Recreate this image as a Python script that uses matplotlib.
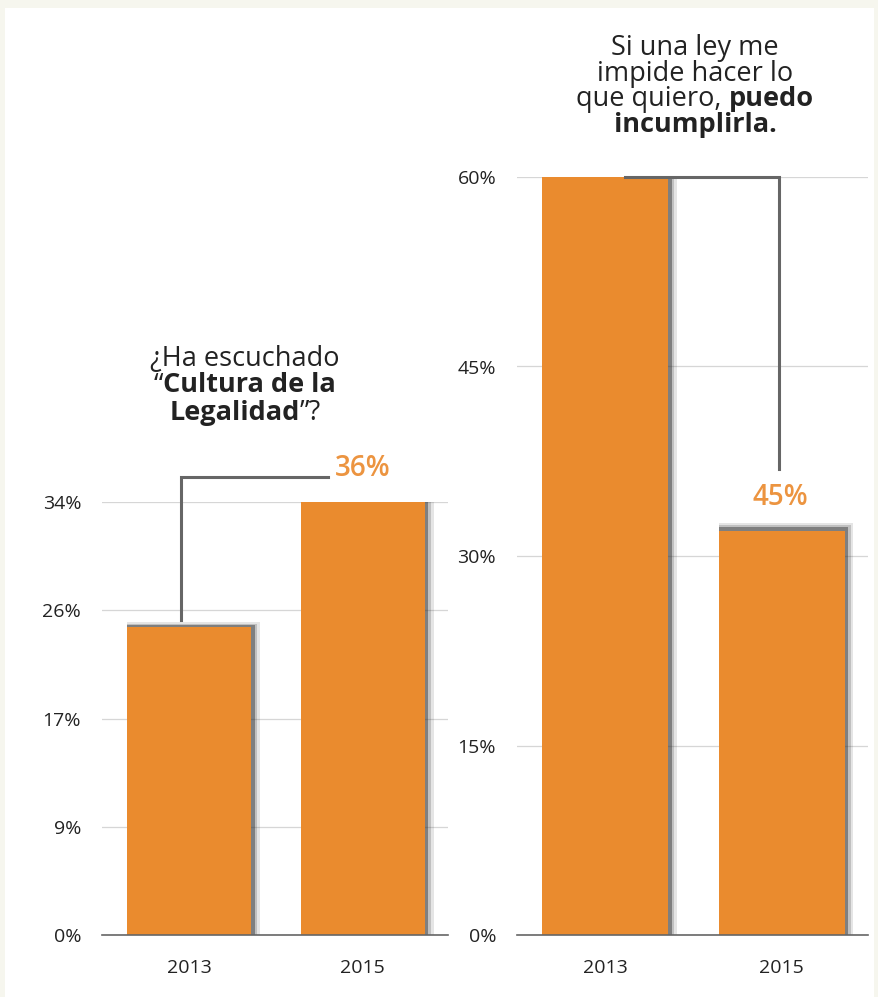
import matplotlib
matplotlib.use('Agg')
import matplotlib.pyplot as plt
from matplotlib.patches import Rectangle

plt.rcParams['font.family'] = ['Open Sans', 'DejaVu Sans']

# data
years = ['2013', '2015']
heard_vals = [24.2, 34.0]           # ¿Ha escuchado "Cultura de la Legalidad"?
heard_ticks = [0, 8.5, 17, 25.5, 34]
heard_labels = ['0%', '9%', '17%', '26%', '34%']
heard_note = '36%'

break_vals = [60.0, 32.0]           # Si una ley me impide hacer lo que quiero...
break_ticks = [0, 15, 30, 45, 60]
break_labels = ['0%', '15%', '30%', '45%', '60%']
break_note = '45%'

BAR = '#EA8B2E'
NOTE = '#EC9440'
LINE = '#666666'
GRID = '#d6d6d6'
TXT = '#222222'

W, H = 879, 997
fig = plt.figure(figsize=(W / 100, H / 100), dpi=100)
fig.patch.set_facecolor('#f6f6ee')
fig.patches.append(Rectangle((5 / W, 0), (W - 10) / W, (H - 8) / H,
                             transform=fig.transFigure, facecolor='white',
                             edgecolor='none', zorder=-5))


def make_axes(rect, vals, ticks, labels, ymax):
    ax = fig.add_axes(rect)
    ax.set_zorder(2)
    ax.set_facecolor('none')
    x = [0, 1]
    # soft drop shadow (right side and top)
    for k, a in enumerate([0.12, 0.20, 0.45]):
        dx = 0.05 - k * 0.015
        dy = ymax * (0.010 - k * 0.0025)
        ax.bar([i + dx / 2 for i in x], [v + dy for v in vals], width=0.715 + dx,
               color='#303030', alpha=a, zorder=2, linewidth=0)
    ax.bar(x, vals, width=0.715, color=BAR, zorder=3, linewidth=0)
    ax.set_xlim(-0.5, 1.49)
    ax.set_ylim(0, ymax)
    ax.set_yticks(ticks)
    ax.set_yticklabels(labels)
    ax.set_xticks(x)
    ax.set_xticklabels(years)
    ax.tick_params(axis='y', length=0, pad=15, labelsize=14, labelcolor=TXT)
    ax.tick_params(axis='x', length=0, pad=17, labelsize=14, labelcolor=TXT)
    ax.grid(axis='y', color=GRID, linewidth=0.9, zorder=1)
    for s in ['top', 'right', 'left']:
        ax.spines[s].set_visible(False)
    ax.spines['bottom'].set_color(LINE)
    ax.spines['bottom'].set_linewidth(1.2)
    ax.spines['bottom'].set_zorder(4)
    return ax


ax1 = make_axes([102 / W, 62 / H, 346 / W, 433 / H],
                heard_vals, heard_ticks, heard_labels, 34)
ax2 = make_axes([517 / W, 62 / H, 351 / W, 758 / H],
                break_vals, break_ticks, break_labels, 60)

# connector lines
ax1.plot([-0.046, -0.046, 0.80], [heard_vals[0] + 0.5, 36.0, 36.0],
         color=LINE, linewidth=2.2, clip_on=False, zorder=5, solid_joinstyle='miter')
ax1.text(0.84, 36.6, heard_note, color=NOTE, fontsize=20, fontweight='semibold',
         ha='left', va='center', clip_on=False)

ax2.plot([0.11, 0.983, 0.983], [60.0, 60.0, 36.9],
         color=LINE, linewidth=2.2, clip_on=False, zorder=5, solid_joinstyle='miter')
ax2.text(0.994, 34.6, break_note, color=NOTE, fontsize=20, fontweight='semibold',
         ha='center', va='center', clip_on=False)


# titles with mixed weights, centred per line
def title_lines(lines, cx, y0, dy, size=19.5):
    r = fig.canvas.get_renderer()
    for n, segs in enumerate(lines):
        y = 1 - (y0 + n * dy) / H
        widths = []
        objs = []
        for s, w in segs:
            t = fig.text(0, y, s, fontsize=size, fontweight=w, color=TXT,
                         ha='left', va='center')
            widths.append(t.get_window_extent(r).width)
            objs.append(t)
        x = cx - sum(widths) / 2
        for t, wd in zip(objs, widths):
            t.set_x(x / W)
            x += wd


title_lines([[('¿Ha escuchado', 'normal')],
             [('“', 'normal'), ('Cultura de la', 'bold')],
             [('Legalidad', 'bold'), ('”?', 'normal')]],
            245, 358, 27.5)

title_lines([[('Si una ley me', 'normal')],
             [('impide hacer lo', 'normal')],
             [('que quiero, ', 'normal'), ('puedo', 'bold')],
             [('incumplirla.', 'bold')]],
            695, 48, 25.5)

fig.savefig('out.png', dpi=100, facecolor=fig.get_facecolor())
